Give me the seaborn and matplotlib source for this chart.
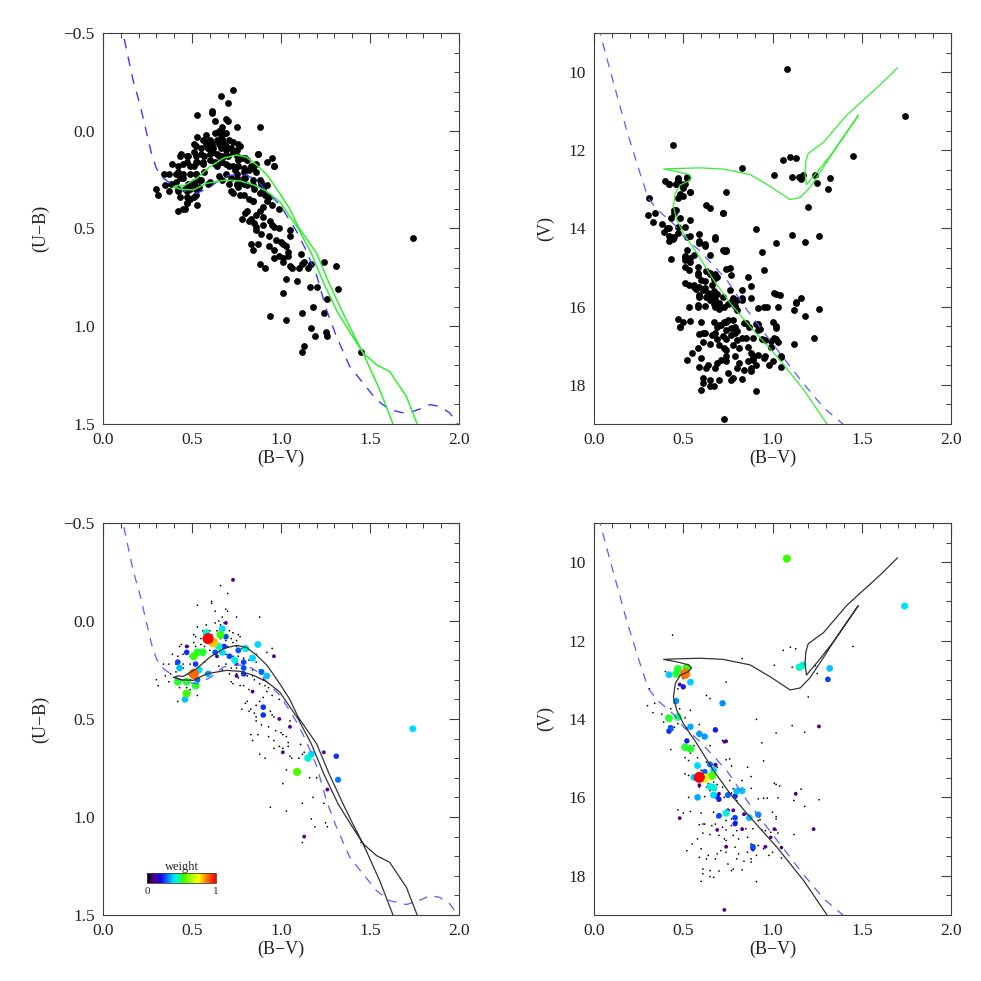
import numpy as np
import pandas as pd
import seaborn as sns
import matplotlib
import matplotlib.pyplot as plt
from matplotlib.colors import LinearSegmentedColormap, Normalize
from matplotlib.ticker import MultipleLocator, FuncFormatter

# ---------------- data: (U-B) vs (B-V) ----------------
# stars with zero weight
ub_bv0 = [0.66, 0.70, 0.53, 0.61, 0.61, 0.63, 0.69, 0.70, 0.75, 0.88, 0.67, 0.65, 0.63, 0.68, 0.66, 0.58,
          0.53, 0.56, 0.60, 0.64, 0.67, 0.71, 0.61, 0.65, 0.68, 0.73, 0.76, 0.51, 0.52, 0.55, 0.58, 0.59,
          0.62, 0.66, 0.69, 0.72, 0.75, 0.77, 0.73, 0.44, 0.43, 0.48, 0.51, 0.52, 0.55, 0.57, 0.60, 0.64,
          0.66, 0.70, 0.75, 0.78, 0.81, 0.87, 0.95, 0.96, 0.92, 0.86, 0.83, 0.39, 0.42, 0.45, 0.49, 0.52,
          0.56, 0.60, 0.63, 0.66, 0.69, 0.73, 0.76, 0.79, 0.82, 0.86, 0.34, 0.37, 0.41, 0.45, 0.49, 0.52,
          0.57, 0.65, 0.69, 0.72, 0.75, 0.80, 0.84, 0.88, 0.35, 0.38, 0.41, 0.45, 0.48, 0.51, 0.55, 0.60,
          0.67, 0.71, 0.75, 0.78, 0.81, 0.84, 0.89, 0.90, 0.30, 0.31, 0.37, 0.42, 0.46, 0.49, 0.52, 0.54,
          0.72, 0.73, 0.76, 0.85, 0.88, 0.91, 0.93, 0.42, 0.45, 0.47, 0.49, 0.51, 0.53, 0.47, 0.43, 0.77,
          0.79, 0.82, 0.84, 0.78, 0.80, 0.81, 0.83, 0.86, 0.88, 0.90, 0.92, 0.95, 0.99, 0.82, 0.85, 0.86,
          0.94, 0.95, 0.96, 0.86, 0.89, 1.05, 0.93, 0.83, 0.84, 0.87, 0.93, 0.97, 1.00, 1.01, 1.03, 1.04,
          0.88, 0.91, 0.96, 0.96, 0.99, 1.01, 1.04, 1.05, 1.06, 1.10, 1.12, 1.13, 1.11, 1.01, 1.03, 1.16,
          1.20, 0.94, 1.03, 1.12, 1.18, 1.24, 1.17, 1.19, 1.25, 1.26, 1.12, 1.45]
ub_val0 = [-0.18, -0.14, -0.08, -0.10, -0.09, -0.05, -0.06, -0.05, -0.02, -0.02, -0.02, 0.00, 0.01, 0.01,
           0.02, 0.02, 0.03, 0.05, 0.05, 0.05, 0.05, 0.05, 0.07, 0.07, 0.07, 0.06, 0.07, 0.07, 0.08, 0.09,
           0.07, 0.09, 0.09, 0.09, 0.10, 0.09, 0.10, 0.08, 0.11, 0.12, 0.13, 0.13, 0.11, 0.13, 0.12, 0.13,
           0.12, 0.12, 0.13, 0.13, 0.13, 0.14, 0.15, 0.12, 0.14, 0.18, 0.16, 0.17, 0.18, 0.17, 0.18, 0.17,
           0.18, 0.16, 0.17, 0.15, 0.17, 0.16, 0.17, 0.18, 0.18, 0.19, 0.20, 0.21, 0.22, 0.22, 0.22, 0.22,
           0.22, 0.22, 0.21, 0.23, 0.22, 0.24, 0.24, 0.24, 0.25, 0.25, 0.28, 0.27, 0.26, 0.24, 0.27, 0.26,
           0.25, 0.26, 0.25, 0.27, 0.27, 0.26, 0.28, 0.28, 0.27, 0.30, 0.30, 0.33, 0.31, 0.30, 0.30, 0.30,
           0.30, 0.29, 0.31, 0.32, 0.29, 0.30, 0.32, 0.33, 0.34, 0.41, 0.40, 0.37, 0.35, 0.34, 0.38, 0.34,
           0.34, 0.33, 0.33, 0.35, 0.36, 0.45, 0.42, 0.41, 0.45, 0.43, 0.41, 0.39, 0.36, 0.38, 0.40, 0.46,
           0.47, 0.49, 0.46, 0.48, 0.49, 0.51, 0.53, 0.51, 0.54, 0.58, 0.61, 0.58, 0.59, 0.56, 0.57, 0.58,
           0.59, 0.62, 0.68, 0.70, 0.65, 0.61, 0.64, 0.65, 0.64, 0.69, 0.70, 0.70, 0.68, 0.67, 0.63, 0.83,
           0.76, 0.80, 0.80, 0.95, 0.97, 0.93, 0.90, 0.93, 1.01, 1.05, 1.03, 1.05, 1.13, 1.13]
# stars with a weight
ub_bv1 = [0.59, 0.62, 0.51, 0.66, 0.51, 0.53, 0.56, 0.42, 0.47, 0.52, 0.47, 1.09, 0.58, 0.67, 0.65,
          0.67, 0.74, 0.80, 0.87, 0.84, 0.92, 0.54, 0.43, 0.46, 0.59, 1.17, 1.15, 1.74, 0.69, 0.47,
          0.42, 0.52, 0.79, 0.79, 0.89, 0.79, 0.71, 0.76, 0.63, 0.68, 0.53, 1.31, 0.90, 0.90, 1.32,
          0.47, 0.69, 0.75, 0.75, 0.96, 0.84, 0.99, 1.05, 1.01, 1.24, 1.26, 1.13, 0.73, 0.64]
ub_val1 = [0.09, 0.11, 0.27, 0.07, 0.18, 0.16, 0.16, 0.31, 0.31, 0.33, 0.37, 0.77, 0.06, 0.04, 0.13,
           0.16, 0.20, 0.14, 0.12, 0.19, 0.28, 0.25, 0.24, 0.40, 0.27, 0.68, 0.70, 0.55, 0.08, 0.16,
           0.21, 0.22, 0.21, 0.24, 0.26, 0.27, 0.18, 0.15, 0.16, 0.13, 0.30, 0.69, 0.44, 0.48, 0.81,
           0.13, 0.01, 0.22, 0.28, 0.18, 0.36, 0.50, 0.54, 0.67, 0.67, 0.86, 1.10, -0.21, 0.18]
ub_w1 = [1.0, 0.8, 0.88, 0.52, 0.52, 0.5, 0.5, 0.5, 0.5, 0.5, 0.53, 0.55, 0.43, 0.38, 0.43,
         0.38, 0.42, 0.42, 0.38, 0.38, 0.36, 0.38, 0.36, 0.36, 0.34, 0.38, 0.42, 0.38, 0.26, 0.24,
         0.25, 0.24, 0.25, 0.26, 0.28, 0.24, 0.25, 0.27, 0.27, 0.24, 0.28, 0.24, 0.24, 0.24, 0.3,
         0.1, 0.1, 0.1, 0.1, 0.1, 0.1, 0.1, 0.1, 0.1, 0.1, 0.1, 0.1, 0.1, 0.1]

# ---------------- data: V vs (B-V) ----------------
v_bv0 = [0.44, 1.45, 0.83, 1.06, 1.10, 1.13, 1.01, 1.11, 1.16, 1.24, 1.25, 0.40, 0.42, 0.47, 0.46, 0.49,
         0.52, 0.50, 0.54, 0.48, 0.47, 0.74, 0.31, 0.45, 0.45, 0.63, 0.65, 0.72, 1.20, 0.30, 0.34, 0.33,
         0.38, 0.43, 0.48, 0.54, 0.39, 0.41, 0.42, 0.44, 0.45, 0.47, 0.51, 0.52, 0.91, 1.11, 1.18, 1.02,
         0.94, 0.95, 0.59, 0.68, 0.59, 0.62, 0.43, 0.51, 0.51, 0.54, 0.56, 0.51, 0.53, 0.58, 0.65, 0.72,
         0.74, 0.58, 0.60, 0.63, 0.65, 0.67, 0.69, 0.74, 0.76, 0.77, 0.86, 0.51, 0.53, 0.56, 0.57, 0.61,
         0.64, 0.67, 0.69, 0.76, 0.83, 0.88, 0.59, 0.63, 0.65, 0.68, 0.72, 0.76, 0.78, 0.83, 0.88, 0.53,
         0.58, 0.62, 0.68, 0.73, 0.77, 0.80, 0.92, 0.95, 0.97, 1.01, 1.02, 1.04, 1.03, 1.13, 1.16, 1.18,
         1.26, 1.12, 0.47, 0.50, 0.54, 0.48, 0.60, 0.61, 0.67, 0.69, 0.71, 0.73, 0.74, 0.77, 0.80, 0.85,
         0.91, 0.92, 0.93, 1.00, 1.02, 1.02, 0.59, 0.62, 0.66, 0.68, 0.72, 0.74, 0.77, 0.80, 0.85, 0.89,
         0.94, 0.96, 0.99, 1.02, 1.03, 1.12, 0.58, 0.55, 0.61, 0.65, 0.70, 0.73, 0.74, 0.78, 0.81, 0.86,
         0.88, 0.89, 0.92, 0.99, 0.52, 0.60, 0.64, 0.69, 0.71, 0.74, 0.79, 0.81, 0.86, 0.89, 0.91, 0.95,
         1.00, 1.05, 1.05, 0.98, 0.88, 0.59, 0.63, 0.68, 0.75, 0.80, 0.84, 0.88, 0.61, 0.61, 0.65, 0.65,
         0.67, 0.70, 0.77, 0.78, 0.83, 0.60, 0.91]
v_val0 = [11.86, 12.15, 12.46, 12.25, 12.17, 12.21, 12.63, 12.68, 12.74, 12.64, 12.84, 12.79, 12.87,
          12.74, 12.87, 12.85, 12.70, 12.97, 13.06, 13.14, 13.23, 13.06, 13.23, 13.54, 13.60, 13.40, 13.48,
          13.60, 13.44, 13.66, 13.60, 13.84, 13.88, 13.74, 13.74, 13.78, 14.08, 14.00, 14.19, 14.28, 14.21,
          14.12, 13.97, 14.23, 14.01, 14.17, 14.34, 14.36, 14.61, 15.07, 14.14, 14.23, 14.32, 14.40, 14.78,
          14.70, 14.80, 14.87, 14.68, 14.99, 15.06, 14.99, 14.68, 14.55, 14.55, 15.14, 15.31, 15.10, 15.14,
          15.27, 15.23, 15.04, 15.02, 15.20, 15.23, 15.40, 15.44, 15.44, 15.54, 15.57, 15.65, 15.61, 15.67,
          15.57, 15.57, 15.47, 15.74, 15.74, 15.83, 15.81, 15.74, 15.91, 15.78, 15.77, 15.77, 16.00, 15.95,
          15.98, 16.01, 16.00, 15.89, 16.08, 16.04, 16.02, 16.02, 15.64, 15.67, 15.71, 16.01, 15.88, 15.79,
          16.23, 16.06, 16.08, 16.32, 16.40, 16.36, 16.52, 16.40, 16.68, 16.38, 16.51, 16.46, 16.38, 16.59,
          16.55, 16.63, 16.42, 16.44, 16.59, 16.57, 16.38, 16.49, 16.55, 16.70, 16.68, 16.72, 16.68, 16.76,
          16.83, 16.72, 16.85, 16.80, 16.80, 16.83, 16.85, 16.89, 16.83, 16.91, 16.95, 17.06, 17.19, 16.91,
          16.95, 16.97, 17.06, 17.10, 16.97, 17.06, 17.02, 17.19, 17.27, 17.23, 17.02, 17.36, 17.31, 17.48,
          17.44, 17.36, 17.40, 17.27, 17.44, 17.40, 17.36, 17.48, 17.31, 17.40, 17.27, 17.55, 17.48, 17.57,
          17.53, 17.57, 17.57, 17.70, 17.57, 17.63, 17.65, 17.83, 17.95, 17.87, 18.02, 18.04, 17.88, 17.87,
          17.83, 17.85, 18.14, 18.15]
v_bv1 = [1.08, 1.74, 1.15, 1.17, 1.32, 1.31, 0.47, 0.52, 0.46, 0.51, 0.42, 0.54, 0.50, 0.48, 0.46,
         0.72, 0.42, 0.47, 0.43, 0.42, 0.54, 0.68, 0.59, 0.62, 0.52, 1.26, 0.74, 0.73, 0.51, 0.54,
         0.58, 0.65, 0.68, 0.62, 0.67, 0.59, 0.62, 0.66, 0.56, 0.59, 0.65, 0.67, 0.58, 0.67, 0.70,
         0.69, 0.75, 0.79, 0.80, 0.83, 0.70, 1.13, 0.70, 0.79, 0.79, 0.74, 0.87, 0.92, 0.75, 0.84,
         0.78, 0.48, 0.69, 0.83, 1.01, 0.99, 1.05, 0.96, 0.74, 1.23, 0.89, 0.89, 0.73]
v_val1 = [9.91, 11.12, 12.68, 12.63, 12.71, 12.99, 12.72, 12.69, 12.85, 12.85, 12.87, 13.06, 13.18,
          13.12, 13.54, 13.60, 13.98, 13.95, 14.23, 14.31, 14.20, 14.28, 14.38, 14.45, 14.56, 14.19,
          14.57, 14.58, 14.72, 14.76, 15.19, 15.16, 15.17, 15.35, 15.30, 15.49, 15.51, 15.45, 15.49,
          15.69, 15.73, 15.75, 16.00, 15.94, 16.05, 15.97, 15.94, 15.97, 15.84, 15.83, 15.91, 15.91,
          16.47, 16.52, 16.67, 16.40, 16.52, 16.44, 16.33, 16.43, 16.33, 16.53, 16.83, 16.81, 16.81,
          17.02, 17.28, 17.26, 17.26, 16.81, 17.26, 17.30, 18.87]
v_w1 = [0.52, 0.4, 0.44, 0.42, 0.36, 0.25, 0.5, 0.52, 0.5, 0.87, 0.37, 0.37, 0.22, 0.1, 0.32,
        0.32, 0.5, 0.48, 0.27, 0.23, 0.34, 0.22, 0.33, 0.33, 0.22, 0.1, 0.1, 0.1, 0.5, 0.5,
        0.38, 0.28, 0.12, 0.27, 0.38, 1.0, 0.72, 0.55, 0.36, 0.1, 0.42, 0.42, 0.34, 0.38, 0.22,
        0.2, 0.28, 0.24, 0.36, 0.36, 0.1, 0.1, 0.26, 0.25, 0.22, 0.42, 0.36, 0.32, 0.1, 0.1,
        0.1, 0.1, 0.1, 0.1, 0.1, 0.08, 0.08, 0.1, 0.1, 0.1, 0.26, 0.22, 0.1]

# ---------------- reference curves ----------------
zams_ub_bv = [0.10, 0.112, 0.169, 0.208, 0.272, 0.30, 0.339, 0.40, 0.46, 0.526, 0.60, 0.676, 0.74, 0.807,
              0.87, 0.94, 0.994, 1.05, 1.088, 1.14, 1.20, 1.255, 1.311, 1.386, 1.46, 1.536, 1.61, 1.704,
              1.798, 1.835, 1.891, 1.948, 2.0]
zams_ub = [-0.56, -0.5, -0.258, -0.132, 0.116, 0.193, 0.243, 0.283, 0.31, 0.32, 0.29, 0.235, 0.225, 0.226,
           0.26, 0.33, 0.38, 0.46, 0.516, 0.61, 0.74, 0.916, 1.052, 1.206, 1.29, 1.376, 1.427, 1.447,
           1.418, 1.401, 1.41, 1.444, 1.51]
iso_ub_bv = [1.79, 1.704, 1.61, 1.536, 1.461, 1.40, 1.32, 1.24, 1.17, 1.096, 0.993, 0.92, 0.845, 0.77,
             0.695, 0.583, 0.507, 0.44, 0.395, 0.42, 0.451, 0.526, 0.601, 0.676, 0.751, 0.807, 0.863,
             0.92, 0.955, 1.0, 1.049, 1.096, 1.20, 1.27, 1.348, 1.40, 1.461, 1.554, 1.65]
iso_ub = [1.56, 1.359, 1.231, 1.197, 1.137, 1.05, 0.933, 0.78, 0.627, 0.50, 0.363, 0.31, 0.277, 0.257,
          0.252, 0.269, 0.303, 0.30, 0.288, 0.28, 0.283, 0.243, 0.184, 0.141, 0.124, 0.136, 0.175,
          0.225, 0.27, 0.33, 0.40, 0.49, 0.627, 0.78, 0.933, 1.03, 1.137, 1.325, 1.55]
zams_v_bv = [0.025, 0.09, 0.183, 0.258, 0.305, 0.35, 0.39, 0.45, 0.50, 0.594, 0.743, 0.855, 0.967, 1.06,
             1.17, 1.29, 1.42]
zams_v = [8.85, 9.95, 11.49, 12.59, 13.23, 13.5, 13.66, 13.9, 14.2, 14.58, 15.31, 16.07, 16.75, 17.3,
          17.95, 18.6, 19.1]
iso_v_bv = [1.32, 1.174, 1.024, 0.875, 0.763, 0.669, 0.576, 0.501, 0.464, 0.445, 0.455, 0.482, 0.528,
            0.547, 0.53, 0.47, 0.39, 0.44, 0.594, 0.724, 0.874, 0.986, 1.098, 1.154, 1.21, 1.29, 1.36,
            1.48, 1.35, 1.26, 1.19, 1.182, 1.186, 1.20, 1.285, 1.416, 1.602, 1.70]
iso_v = [19.1, 18.12, 17.27, 16.51, 15.91, 15.31, 14.63, 14.12, 13.78, 13.44, 13.1, 12.89, 12.79, 12.70,
         12.62, 12.55, 12.48, 12.47, 12.45, 12.48, 12.62, 12.92, 13.26, 13.21, 12.95, 12.4, 11.9, 11.11,
         11.98, 12.5, 12.88, 12.6, 12.3, 12.08, 11.8, 11.1, 10.33, 9.89]

# ---------------- style ----------------
sns.set_theme(style="white")
plt.rcParams['font.family'] = ['Liberation Serif', 'DejaVu Serif']
plt.rcParams['axes.edgecolor'] = '#404040'
plt.rcParams['axes.linewidth'] = 0.8

wcmap = LinearSegmentedColormap.from_list("weight", [
    (0.0, (0, 0, 0)), (0.1, (0.32, 0, 0.55)), (0.2, (0.1, 0, 0.95)), (0.28, (0, 0.4, 1)),
    (0.38, (0, 0.85, 1)), (0.45, (0, 1, 0.75)), (0.52, (0.2, 1, 0)), (0.65, (0.7, 1, 0)),
    (0.75, (1, 1, 0)), (0.87, (1, 0.45, 0)), (1.0, (1, 0, 0))])

ub0 = pd.DataFrame({'bv': ub_bv0, 'ub': ub_val0, 'w': 0.0})
ub1 = pd.DataFrame({'bv': ub_bv1, 'ub': ub_val1, 'w': ub_w1})
ub_all = pd.concat([ub0, ub1]).sort_values('w')
v0 = pd.DataFrame({'bv': v_bv0, 'v': v_val0, 'w': 0.0})
v1 = pd.DataFrame({'bv': v_bv1, 'v': v_val1, 'w': v_w1})
v_all = pd.concat([v0, v1]).sort_values('w')

fig = plt.figure(figsize=(9.81, 9.81), dpi=100)
ax1 = fig.add_axes([0.105, 0.5678, 0.363, 0.3986])
ax2 = fig.add_axes([0.6055, 0.5678, 0.364, 0.3986])
ax3 = fig.add_axes([0.105, 0.0673, 0.363, 0.3996])
ax4 = fig.add_axes([0.6055, 0.0673, 0.364, 0.3996])

blue = '#3a3aff'
green = '#33ee33'
dash = (0, (7, 6))


def fmt1(v, pos):
    s = '%.1f' % v
    if s == '-0.0':
        s = '0.0'
    return s.replace('-', '\u2212')


def style_ax(ax, ylab, vpanel):
    ax.set_xlim(0, 2)
    ax.xaxis.set_major_locator(MultipleLocator(0.5))
    ax.xaxis.set_minor_locator(MultipleLocator(0.1))
    if vpanel:
        ax.set_ylim(19, 9)
        ax.yaxis.set_major_locator(MultipleLocator(2))
        ax.yaxis.set_minor_locator(MultipleLocator(0.5))
        ax.set_yticks([10, 12, 14, 16, 18])
    else:
        ax.set_ylim(1.5, -0.5)
        ax.yaxis.set_major_locator(MultipleLocator(0.5))
        ax.yaxis.set_minor_locator(MultipleLocator(0.1))
        ax.yaxis.set_major_formatter(FuncFormatter(fmt1))
    ax.xaxis.set_major_formatter(FuncFormatter(fmt1))
    ax.tick_params(which='both', direction='in', top=True, right=True, color='#404040',
                   labelsize=12.5, labelcolor='#222222', pad=6)
    ax.tick_params(which='major', length=7, width=0.8)
    ax.tick_params(which='minor', length=3.5, width=0.7)
    ax.set_xlabel('(B\u2212V)', fontsize=13, color='#222222', labelpad=1)
    ax.set_ylabel(ylab, fontsize=13, color='#222222', labelpad=10)


# top-left
sns.scatterplot(data=ub_all, x='bv', y='ub', color='black', s=24, linewidth=0, ax=ax1)
sns.lineplot(x=zams_ub_bv, y=zams_ub, sort=False, estimator=None, color=blue, lw=1.0,
             linestyle=dash, ax=ax1, zorder=3)
sns.lineplot(x=iso_ub_bv, y=iso_ub, sort=False, estimator=None, color=green, lw=1.1, ax=ax1, zorder=4)
style_ax(ax1, '(U\u2212B)', False)

# top-right
sns.scatterplot(data=v_all, x='bv', y='v', color='black', s=24, linewidth=0, ax=ax2)
sns.lineplot(x=zams_v_bv, y=zams_v, sort=False, estimator=None, color='#5c5cff', lw=0.9,
             linestyle=dash, ax=ax2, zorder=3)
sns.lineplot(x=iso_v_bv, y=iso_v, sort=False, estimator=None, color=green, lw=0.9, ax=ax2, zorder=4)
style_ax(ax2, '(V)', True)

# bottom-left
sns.scatterplot(data=ub_all, x='bv', y='ub', hue='w', size='w', palette=wcmap, hue_norm=(0, 1),
                size_norm=(0, 1), sizes=(1.5, 63), linewidth=0, legend=False, ax=ax3)
sns.lineplot(x=zams_ub_bv, y=zams_ub, sort=False, estimator=None, color='#5c5cff', lw=0.9,
             linestyle=dash, ax=ax3, zorder=3)
sns.lineplot(x=iso_ub_bv, y=iso_ub, sort=False, estimator=None, color='#333333', lw=0.9, ax=ax3, zorder=4)
style_ax(ax3, '(U\u2212B)', False)

# bottom-right
sns.scatterplot(data=v_all, x='bv', y='v', hue='w', size='w', palette=wcmap, hue_norm=(0, 1),
                size_norm=(0, 1), sizes=(1.5, 63), linewidth=0, legend=False, ax=ax4)
sns.lineplot(x=zams_v_bv, y=zams_v, sort=False, estimator=None, color='#5c5cff', lw=0.9,
             linestyle=dash, ax=ax4, zorder=3)
sns.lineplot(x=iso_v_bv, y=iso_v, sort=False, estimator=None, color='#333333', lw=0.9, ax=ax4, zorder=4)
style_ax(ax4, '(V)', True)

# weight colour bar
cax = fig.add_axes([0.150, 0.1002, 0.070, 0.0102])
cb = matplotlib.colorbar.ColorbarBase(cax, cmap=wcmap, norm=Normalize(0, 1), orientation='horizontal',
                                      ticks=[0, 1])
cb.outline.set_linewidth(0.6)
cax.tick_params(length=0, labelsize=8, pad=3)
cax.set_title('weight', fontsize=9, pad=2)

fig.savefig('out.png', dpi=100)
